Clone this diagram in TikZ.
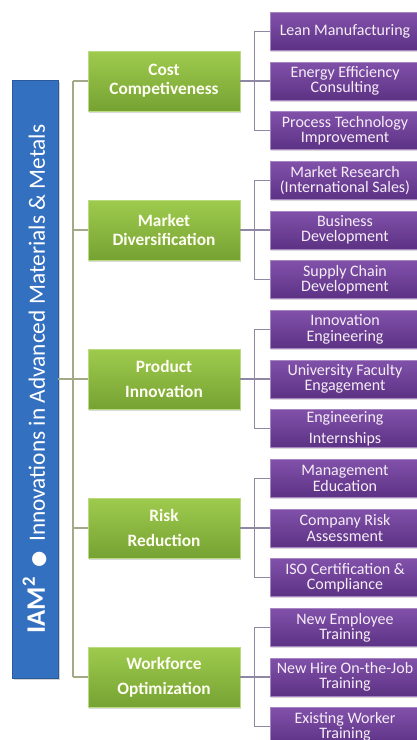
\documentclass[tikz,border=0pt]{standalone}
\usepackage{fontspec}
\setmainfont{Carlito}
\newfontfamily\dejavu{DejaVu Sans}
\usetikzlibrary{shadows}
\definecolor{barblue}{HTML}{3470C0}
\definecolor{goaltop}{HTML}{9ECB4D}
\definecolor{goalbot}{HTML}{76A233}
\definecolor{tasktop}{HTML}{8151AA}
\definecolor{taskbot}{HTML}{5C3284}
\definecolor{trunkgray}{HTML}{A3AA8A}
\definecolor{linkgray}{HTML}{8E88A2}
\begin{document}
\begin{tikzpicture}[x=0.75pt, y=-0.75pt,
    bar/.style={fill=barblue, draw=barblue!80!black, line width=0.4pt, rotate=90, minimum width=448.5pt, minimum height=34.5pt, inner sep=0pt, text=white, drop shadow={shadow xshift=1.5pt, shadow yshift=-1.5pt, opacity=0.35}},
    goal/.style={top color=goaltop, bottom color=goalbot, draw=goaltop!70!white, line width=0.4pt, minimum width=114pt, minimum height=45pt, inner sep=0pt, align=center, text=white!95!yellow, font=\bfseries\fontsize{13}{14}\selectfont, drop shadow={shadow xshift=1pt, shadow yshift=-1.2pt, opacity=0.3}},
    task/.style={top color=tasktop, bottom color=taskbot, draw=tasktop!70!white, line width=0.4pt, minimum width=112.5pt, minimum height=28.5pt, inner sep=0pt, align=center, text=white!93!violet, font=\fontsize{12}{11.5}\selectfont, drop shadow={shadow xshift=1pt, shadow yshift=-1.2pt, opacity=0.3}},
    trunk/.style={draw=trunkgray, line width=1pt},
    link/.style={draw=linkgray, line width=1pt}]
    \useasboundingbox (0,0) rectangle (417,740);
    \draw[trunk] (73,81) -- (73,677);
    \node[bar] (bar) at (35,379) {{\bfseries\fontsize{20}{20}\selectfont IAM\textsuperscript{2}}\hspace{7pt}{\dejavu\fontsize{14}{14}\selectfont ●}\hspace{7pt}{\fontsize{17.5}{18}\selectfont Innovations in Advanced Materials \& Metals}};
    \node[goal] (cost) at (164,81) {Cost\\Competiveness};
    \node[goal] (market) at (164,230) {Market\\Diversification};
    \node[goal] (prod) at (164,379) {Product\\[4.5pt]Innovation};
    \node[goal] (risk) at (164,528) {Risk\\[4.5pt]Reduction};
    \node[goal] (work) at (164,677) {Workforce\\[4.5pt]Optimization};
    \node[task] (lean) at (345,31.5) {Lean Manufacturing};
    \node[task] (energy) at (345,81) {Energy Efficiency\\Consulting};
    \node[task] (process) at (345,130.5) {Process Technology\\Improvement};
    \node[task] (research) at (345,180.5) {Market Research\\(International Sales)};
    \node[task] (business) at (345,230) {Business\\Development};
    \node[task] (supply) at (345,279.5) {Supply Chain\\Development};
    \node[task] (innov) at (345,329.5) {Innovation\\Engineering};
    \node[task] (faculty) at (345,379) {University Faculty\\Engagement};
    \node[task] (intern) at (345,428.5) {Engineering\\[4pt]Internships};
    \node[task] (mgmt) at (345,478.5) {Management\\Education};
    \node[task] (riskass) at (345,528) {Company Risk\\Assessment};
    \node[task] (iso) at (345,577.5) {ISO Certification \&\\Compliance};
    \node[task] (newemp) at (345,627.5) {New Employee\\Training};
    \node[task] (newhire) at (345,677) {New Hire On-the-Job\\Training};
    \node[task] (existing) at (345,726.5) {Existing Worker\\Training};
    \draw[trunk] (cost.west) -- ++(-15,0);
    \draw[trunk] (market.west) -- ++(-15,0);
    \draw[trunk] (bar.south) -- (prod.west);
    \draw[trunk] (risk.west) -- ++(-15,0);
    \draw[trunk] (work.west) -- ++(-15,0);
    \draw[link] (cost.east) -- (energy.west);
    \draw[link] (lean.west) -- ++(-15,0) |- (process.west);
    \draw[link] (market.east) -- (business.west);
    \draw[link] (research.west) -- ++(-15,0) |- (supply.west);
    \draw[link] (prod.east) -- (faculty.west);
    \draw[link] (innov.west) -- ++(-15,0) |- (intern.west);
    \draw[link] (risk.east) -- (riskass.west);
    \draw[link] (mgmt.west) -- ++(-15,0) |- (iso.west);
    \draw[link] (work.east) -- (newhire.west);
    \draw[link] (newemp.west) -- ++(-15,0) |- (existing.west);
\end{tikzpicture}
\end{document}
